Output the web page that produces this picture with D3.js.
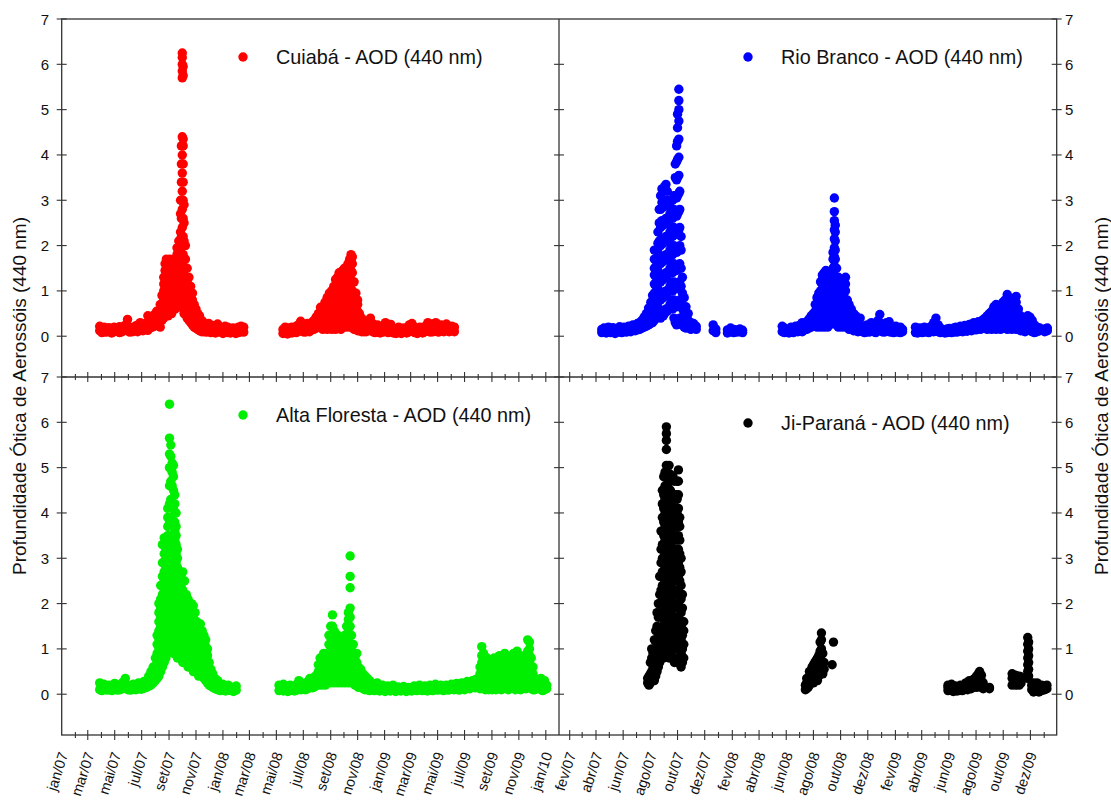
<!DOCTYPE html>
<html>
<head>
<meta charset="utf-8">
<script src="https://cdn.jsdelivr.net/npm/d3@7"></script>
<style>
  html, body { margin: 0; padding: 0; background: #fff; }
  svg { display: block; font-family: Arial, "Liberation Sans", Helvetica, sans-serif; }
</style>
</head>
<body>
<svg id="chart" width="1111" height="801"></svg>
<script>
// AOD (440 nm) observations per station: [date, value, value, ...] (several readings per day)
const cuiaba = [
["2007-03-28",0.12,0.22],["2007-04-02",0.08,0.18],["2007-04-07",0.1,0.2],["2007-04-12",0.09,0.15],["2007-04-18",0.11,0.19],
["2007-04-24",0.07,0.14],["2007-04-30",0.1,0.2],["2007-05-06",0.12,0.17],["2007-05-12",0.08,0.21],["2007-05-18",0.1,0.16],
["2007-05-24",0.13,0.24],["2007-05-30",0.15,0.37],["2007-06-04",0.09,0.2],["2007-06-10",0.1,0.18],["2007-06-16",0.12,0.22],
["2007-06-22",0.1,0.25],["2007-06-28",0.14,0.3],["2007-07-04",0.12,0.24],["2007-07-10",0.15,0.28],["2007-07-15",0.13,0.45],
["2007-07-20",0.18,0.35],["2007-07-25",0.2,0.4],["2007-07-30",0.22,0.48],["2007-08-04",0.25,0.42,0.55],["2007-08-08",0.3,0.5],
["2007-08-12",0.2,0.45,0.7],["2007-08-16",0.35,0.6,0.9],["2007-08-20",0.4,0.6,0.8,1.0,1.15,1.3],
["2007-08-23",0.45,0.65,0.85,1.05,1.25,1.45,1.6],["2007-08-26",0.5,0.7,0.9,1.1,1.3,1.5,1.7],
["2007-08-30",0.45,0.6,0.8,1.0,1.2,1.4,1.65],["2007-09-03",0.6,0.8,1.0,1.2,1.4,1.55,1.7],
["2007-09-07",0.5,0.7,0.9,1.1,1.3,1.45,1.6],["2007-09-11",0.7,0.9,1.1,1.3,1.5,1.68],
["2007-09-15",0.6,0.8,1.0,1.2,1.4,1.55,1.7],["2007-09-19",0.8,1.0,1.2,1.4,1.6,1.8,1.95],
["2007-09-23",0.9,1.1,1.3,1.5,1.7,1.9,2.1],
["2007-09-27",0.7,1.1,1.5,1.9,2.3,2.7,3.0],
["2007-09-29",1.0,1.4,1.8,2.2,2.6,3.0,3.4,3.8,4.2],
["2007-10-01",0.8,1.2,1.6,2.0,2.4,2.8,3.2,3.6,4.0,4.4,5.7,5.85,6.0,6.15,6.25],
["2007-10-03",0.6,1.0,1.4,1.8,2.2,2.6,3.0,3.4,3.8,4.2,4.35,5.75,5.95],
["2007-10-05",0.5,0.9,1.3,1.7,2.1,2.5,2.9],
["2007-10-08",0.5,0.7,0.9,1.1,1.3,1.5,1.7,2.0],["2007-10-12",0.4,0.6,0.8,1.0,1.2,1.5],["2007-10-16",0.35,0.55,0.75,1.0,1.3],
["2007-10-20",0.3,0.45,0.65,0.9,1.1],["2007-10-24",0.25,0.4,0.6,0.8,0.95],["2007-10-28",0.2,0.35,0.5,0.7],
["2007-11-01",0.18,0.35,0.5,0.6],["2007-11-05",0.15,0.3,0.45,0.5],["2007-11-09",0.12,0.28,0.45],["2007-11-14",0.1,0.25,0.35],
["2007-11-19",0.1,0.2,0.3],
["2007-11-25",0.09,0.22],["2007-11-30",0.12,0.28],["2007-12-05",0.08,0.18],["2007-12-10",0.1,0.24],["2007-12-15",0.07,0.2],
["2007-12-20",0.11,0.27],["2007-12-26",0.09,0.16],["2008-01-01",0.06,0.14],["2008-01-06",0.1,0.22],["2008-01-12",0.08,0.2],
["2008-01-18",0.07,0.15],["2008-01-24",0.09,0.18],["2008-01-30",0.06,0.12],["2008-02-05",0.08,0.2],["2008-02-11",0.1,0.22],
["2008-02-17",0.09,0.2],
["2008-05-16",0.06,0.15],["2008-05-21",0.08,0.2],["2008-05-26",0.05,0.12],["2008-05-31",0.09,0.18],["2008-06-05",0.07,0.2],
["2008-06-10",0.1,0.16],["2008-06-15",0.08,0.22],["2008-06-20",0.11,0.25],["2008-06-25",0.12,0.33],["2008-06-30",0.1,0.2],
["2008-07-05",0.09,0.22],["2008-07-10",0.12,0.28],["2008-07-15",0.1,0.25],["2008-07-20",0.14,0.3],["2008-07-25",0.15,0.35],
["2008-07-30",0.18,0.42],["2008-08-04",0.2,0.35,0.5],["2008-08-09",0.22,0.4,0.55,0.64],["2008-08-14",0.15,0.3,0.45,0.6],
["2008-08-19",0.2,0.35,0.55,0.75],["2008-08-24",0.15,0.3,0.45,0.65,0.85],["2008-08-29",0.2,0.4,0.6,0.8,0.95],
["2008-09-03",0.15,0.35,0.55,0.75,0.9,1.0],["2008-09-08",0.2,0.4,0.6,0.8,0.95,1.1],
["2008-09-12",0.15,0.35,0.55,0.75,0.95,1.1,1.25],["2008-09-16",0.2,0.4,0.6,0.8,1.0,1.15,1.3],
["2008-09-20",0.25,0.45,0.65,0.85,1.05,1.25,1.4],["2008-09-24",0.15,0.35,0.55,0.75,0.95,1.15,1.3],
["2008-09-28",0.2,0.4,0.6,0.8,1.0,1.2,1.35,1.45],["2008-10-02",0.25,0.45,0.65,0.85,1.05,1.25,1.4,1.5],
["2008-10-06",0.2,0.4,0.6,0.8,1.0,1.2,1.35],["2008-10-10",0.25,0.45,0.65,0.85,1.05,1.25,1.45,1.6],
["2008-10-14",0.2,0.4,0.6,0.8,1.0,1.2,1.4,1.55,1.7],["2008-10-17",0.25,0.45,0.65,0.85,1.05,1.25,1.45,1.65,1.8],
["2008-10-20",0.2,0.4,0.6,0.8,1.0,1.2,1.4,1.6,1.75],["2008-10-24",0.15,0.35,0.55,0.75,0.95,1.2],
["2008-10-28",0.15,0.3,0.45,0.6,0.8,0.95],["2008-11-01",0.12,0.25,0.4,0.55,0.7,0.8],["2008-11-05",0.12,0.25,0.4,0.5],
["2008-11-10",0.1,0.25,0.4],["2008-11-15",0.1,0.2,0.3],
["2008-11-20",0.1,0.25],["2008-11-25",0.12,0.3],["2008-11-30",0.15,0.4],["2008-12-05",0.1,0.28],["2008-12-10",0.08,0.2],
["2008-12-16",0.1,0.25],["2008-12-22",0.07,0.18],["2008-12-28",0.09,0.22],["2009-01-03",0.12,0.3],["2009-01-09",0.08,0.2],
["2009-01-15",0.1,0.26],["2009-01-21",0.07,0.16],["2009-01-27",0.06,0.14],["2009-02-02",0.08,0.2],["2009-02-08",0.06,0.15],
["2009-02-14",0.09,0.18],["2009-02-20",0.07,0.16],["2009-02-26",0.1,0.25],["2009-03-04",0.12,0.28],["2009-03-10",0.08,0.2],
["2009-03-16",0.06,0.15],["2009-03-22",0.09,0.2],["2009-03-28",0.07,0.17],["2009-04-03",0.1,0.22],["2009-04-09",0.12,0.3],
["2009-04-15",0.09,0.24],["2009-04-21",0.1,0.27],["2009-04-27",0.11,0.3],["2009-05-03",0.09,0.2],["2009-05-09",0.12,0.25],
["2009-05-15",0.1,0.22],["2009-05-21",0.13,0.27],["2009-05-27",0.1,0.2],["2009-06-02",0.12,0.22],["2009-06-08",0.1,0.2]
];

const rioBranco = [
["2007-04-14",0.08,0.15],["2007-04-19",0.1,0.18],["2007-04-24",0.07,0.14],["2007-04-29",0.09,0.2],["2007-05-04",0.08,0.16],
["2007-05-09",0.1,0.19],["2007-05-14",0.06,0.13],["2007-05-19",0.09,0.17],["2007-05-24",0.1,0.21],["2007-05-29",0.08,0.15],
["2007-06-03",0.11,0.2],["2007-06-08",0.09,0.18],["2007-06-13",0.12,0.22],["2007-06-18",0.1,0.2],["2007-06-23",0.13,0.25],
["2007-06-28",0.12,0.22],["2007-07-03",0.14,0.28],["2007-07-08",0.15,0.3],["2007-07-13",0.18,0.35],["2007-07-18",0.2,0.42],
["2007-07-23",0.22,0.36,0.5],["2007-07-28",0.25,0.45,0.62],["2007-08-02",0.28,0.42,0.58,0.75],["2007-08-06",0.3,0.45,0.6,0.75,0.9],
["2007-08-10",0.35,0.55,0.75,0.95,1.15,1.35,1.5,1.7,1.9],["2007-08-14",0.4,0.6,0.8,1.0,1.2,1.4,1.55],
["2007-08-18",0.45,0.65,0.85,1.05,1.25,1.45,1.65,1.85,2.05,2.3],
["2007-08-21",0.5,0.9,1.3,1.7,2.1,2.5,2.8],["2007-08-24",0.4,0.8,1.2,1.6,2.0,2.4,2.8,3.1],
["2007-08-27",0.55,0.95,1.35,1.75,2.15,2.55,2.95,3.25],["2007-08-30",0.45,0.85,1.25,1.65,2.05,2.45,2.85,3.2],
["2007-09-02",0.5,0.9,1.3,1.7,2.1,2.5,2.9,3.3],["2007-09-05",0.6,1.0,1.4,1.8,2.2,2.6,3.0,3.35],
["2007-09-08",0.55,0.95,1.35,1.75,2.15,2.55,2.95,3.2],["2007-09-11",0.6,1.0,1.4,1.8,2.2,2.6,3.0],
["2007-09-14",0.7,1.1,1.5,1.9,2.3,2.7,2.95],["2007-09-17",0.8,1.2,1.6,2.0,2.4,2.8],
["2007-09-20",0.6,1.0,1.4,1.8,2.2,2.6,3.0],["2007-09-23",0.4,0.8,1.2,1.6,2.0,2.4,2.8,3.1],
["2007-09-26",0.3,0.7,1.1,1.5,1.9,2.3,2.7,3.1,3.5,3.8],
["2007-09-29",0.25,0.65,1.05,1.45,1.85,2.25,2.65,3.05,3.45,3.85,4.2],
["2007-10-01",0.3,0.7,1.1,1.5,1.9,2.3,2.7,3.1,3.5,3.9,4.3,4.6,4.9],
["2007-10-04",0.35,0.75,1.15,1.55,1.95,2.35,2.75,3.15,3.55,3.95,4.35,4.75,5.0,5.2,5.45],
["2007-10-06",0.4,0.8,1.2,1.6,2.0,2.4,2.8,3.2],["2007-10-09",0.3,0.7,1.1,1.5,1.9,2.2],["2007-10-12",0.25,0.6,0.95,1.3],
["2007-10-16",0.2,0.5,0.85],["2007-10-20",0.18,0.4,0.65],["2007-10-25",0.2,0.35,0.5],["2007-10-31",0.15,0.3],
["2007-11-06",0.18,0.28],["2007-11-12",0.15,0.22],
["2007-12-20",0.12,0.25],["2007-12-26",0.08,0.16],["2008-01-21",0.07,0.14],["2008-01-28",0.1,0.18],["2008-02-04",0.08,0.15],
["2008-02-11",0.09,0.14],["2008-02-18",0.1,0.16],["2008-02-24",0.08,0.13],
["2008-05-23",0.1,0.22],["2008-05-28",0.08,0.18],["2008-06-02",0.1,0.15],["2008-06-07",0.07,0.14],["2008-06-12",0.09,0.2],
["2008-06-17",0.08,0.16],["2008-06-22",0.11,0.22],["2008-06-27",0.1,0.2],["2008-07-02",0.12,0.25],["2008-07-07",0.1,0.3],
["2008-07-12",0.14,0.28],["2008-07-17",0.15,0.32],["2008-07-22",0.18,0.38],["2008-07-27",0.2,0.45],["2008-08-01",0.22,0.36,0.5],
["2008-08-05",0.25,0.4,0.55,0.7],["2008-08-09",0.2,0.35,0.5,0.7,0.85],["2008-08-13",0.25,0.4,0.6,0.8,0.95],
["2008-08-17",0.2,0.4,0.6,0.8,1.0,1.2],["2008-08-21",0.25,0.45,0.65,0.85,1.05,1.25,1.35],
["2008-08-25",0.2,0.4,0.6,0.8,1.0,1.2,1.4],["2008-08-29",0.25,0.45,0.65,0.85,1.05,1.25,1.45],
["2008-09-02",0.2,0.4,0.6,0.8,1.0,1.15,1.3],["2008-09-06",0.25,0.45,0.65,0.85,1.05,1.2,1.35],
["2008-09-10",0.3,0.5,0.7,0.9,1.05,1.2],["2008-09-14",0.3,0.5,0.7,0.9,1.1,1.3,1.5,1.7,1.85],
["2008-09-17",0.35,0.55,0.75,0.95,1.15,1.35,1.55,1.75,1.95,2.15,2.35,2.55,2.75,3.05],
["2008-09-19",0.3,0.5,0.7,0.9,1.1,1.3,1.5,1.7,1.9,2.1,2.3,2.45],
["2008-09-22",0.25,0.45,0.65,0.85,1.05,1.25,1.5],["2008-09-26",0.2,0.4,0.6,0.8,1.0,1.15,1.3],
["2008-09-30",0.25,0.45,0.65,0.85,1.05,1.2],["2008-10-04",0.2,0.4,0.6,0.8,1.0],
["2008-10-08",0.25,0.45,0.65,0.85,1.05,1.2],["2008-10-12",0.2,0.4,0.6,0.8,1.0,1.15,1.3],
["2008-10-16",0.2,0.35,0.5,0.65,0.8],["2008-10-20",0.15,0.3,0.45,0.6,0.7],["2008-10-25",0.15,0.3,0.45,0.6],
["2008-10-30",0.12,0.25,0.4,0.5],["2008-11-04",0.12,0.25,0.35,0.45],["2008-11-09",0.1,0.22,0.35],
["2008-11-14",0.12,0.2,0.4],["2008-11-19",0.1,0.22],["2008-11-24",0.08,0.2],["2008-11-29",0.1,0.25],["2008-12-04",0.09,0.18],
["2008-12-09",0.12,0.3],["2008-12-14",0.1,0.2],["2008-12-19",0.08,0.22],["2008-12-24",0.12,0.35],["2008-12-28",0.15,0.3,0.48],
["2009-01-02",0.1,0.25],["2009-01-07",0.09,0.18],["2009-01-12",0.12,0.3],["2009-01-18",0.1,0.32],["2009-01-23",0.09,0.2],
["2009-01-28",0.08,0.16],["2009-02-02",0.1,0.22],["2009-02-07",0.09,0.18],["2009-02-12",0.08,0.2],["2009-02-17",0.1,0.15],
["2009-03-18",0.08,0.2],["2009-03-23",0.07,0.15],["2009-03-28",0.1,0.18],["2009-04-02",0.08,0.14],["2009-04-07",0.09,0.2],
["2009-04-12",0.1,0.16],["2009-04-17",0.08,0.18],["2009-04-22",0.12,0.22],["2009-04-28",0.1,0.3],["2009-05-03",0.12,0.25,0.4],
["2009-05-08",0.1,0.25],["2009-05-13",0.08,0.18],["2009-05-18",0.09,0.15],["2009-05-23",0.07,0.14],["2009-05-28",0.08,0.16],
["2009-06-02",0.09,0.17],["2009-06-07",0.08,0.15],["2009-06-12",0.1,0.18],["2009-06-17",0.09,0.2],["2009-06-22",0.1,0.16],
["2009-06-27",0.11,0.22],["2009-07-02",0.1,0.2],["2009-07-07",0.12,0.24],["2009-07-12",0.11,0.22],["2009-07-17",0.13,0.26],
["2009-07-22",0.12,0.25],["2009-07-27",0.15,0.3],["2009-08-01",0.14,0.28],["2009-08-06",0.16,0.32],["2009-08-11",0.15,0.3],
["2009-08-16",0.18,0.36],["2009-08-21",0.2,0.4],["2009-08-26",0.15,0.3,0.45],["2009-08-31",0.2,0.35,0.5],
["2009-09-05",0.15,0.3,0.45,0.55],["2009-09-10",0.2,0.35,0.5,0.65],["2009-09-15",0.15,0.3,0.45,0.6,0.7],
["2009-09-20",0.2,0.35,0.5,0.6],["2009-09-25",0.15,0.3,0.4,0.55],["2009-09-30",0.2,0.35,0.5,0.65,0.75],
["2009-10-05",0.2,0.35,0.5,0.65,0.8],["2009-10-10",0.15,0.3,0.45,0.6,0.75,0.92],["2009-10-15",0.2,0.35,0.5,0.65,0.85],
["2009-10-20",0.15,0.3,0.45,0.6],["2009-10-25",0.2,0.35,0.5,0.65],["2009-10-30",0.15,0.3,0.45,0.6,0.75,0.88],
["2009-11-04",0.15,0.3,0.45,0.6],["2009-11-09",0.12,0.25,0.35,0.45],["2009-11-14",0.12,0.25,0.38],["2009-11-19",0.1,0.2,0.3],
["2009-11-25",0.15,0.3,0.45],["2009-11-30",0.12,0.28,0.42],["2009-12-05",0.1,0.2,0.35],["2009-12-10",0.08,0.15,0.25],
["2009-12-16",0.1,0.2],["2009-12-22",0.12,0.18],["2010-01-02",0.1,0.16],["2010-01-08",0.12,0.18]
];

const altaFloresta = [
["2007-03-28",0.1,0.25],["2007-04-02",0.08,0.2],["2007-04-07",0.12,0.22],["2007-04-13",0.09,0.18],["2007-04-19",0.1,0.2],
["2007-04-25",0.08,0.16],["2007-05-01",0.11,0.24],["2007-05-07",0.09,0.18],["2007-05-13",0.1,0.2],["2007-05-19",0.12,0.26],
["2007-05-25",0.15,0.35],["2007-05-31",0.1,0.2],["2007-06-06",0.09,0.18],["2007-06-12",0.11,0.22],["2007-06-18",0.1,0.2],
["2007-06-24",0.12,0.25],["2007-06-30",0.11,0.2],["2007-07-06",0.13,0.28],["2007-07-12",0.15,0.3],["2007-07-17",0.18,0.4],
["2007-07-22",0.2,0.35,0.5],["2007-07-27",0.25,0.45,0.6],["2007-08-01",0.3,0.45,0.6,0.8],["2007-08-05",0.35,0.5,0.7,0.9,1.1,1.3],
["2007-08-09",0.4,0.6,0.8,1.0,1.2,1.4,1.6,1.8,2.0],["2007-08-13",0.5,0.7,0.9,1.1,1.3,1.5,1.7,1.9,2.1,2.4],
["2007-08-17",0.6,0.8,1.0,1.2,1.4,1.6,1.8,2.0,2.2,2.4,2.6,2.9,3.3],
["2007-08-21",0.7,0.9,1.1,1.3,1.5,1.7,1.9,2.1,2.3,2.5,2.7,2.9,3.1,3.3,3.45],
["2007-08-25",0.8,1.0,1.2,1.4,1.6,1.8,2.0,2.2,2.4,2.6,2.8,3.0,3.2],
["2007-08-29",0.9,1.1,1.3,1.5,1.7,1.9,2.1,2.3,2.5,2.7,2.9,3.1,3.3,3.5,3.7,3.9,4.1],
["2007-09-02",1.0,1.4,1.8,2.2,2.6,3.0,3.4,3.8,4.2,4.6,5.0,5.3,5.65,6.4],
["2007-09-05",1.1,1.5,1.9,2.3,2.7,3.1,3.5,3.9,4.3,4.7,5.0,5.25,5.5],
["2007-09-08",1.0,1.4,1.8,2.2,2.6,3.0,3.4,3.8,4.2,4.6,4.9,5.1],
["2007-09-11",0.9,1.3,1.7,2.1,2.5,2.9,3.3,3.7,4.1,4.5,4.8,5.05],
["2007-09-14",1.0,1.2,1.4,1.6,1.8,2.0,2.2,2.4,2.6,2.8,3.0,3.2,3.4,3.6,3.8,4.0,4.2,4.4],
["2007-09-17",0.9,1.1,1.3,1.5,1.7,1.9,2.1,2.3,2.5,2.7,2.9,3.1,3.3,3.5,3.7,4.0],
["2007-09-20",0.8,1.0,1.2,1.4,1.6,1.8,2.0,2.2,2.4,2.6,2.8,3.0,3.2],
["2007-09-24",0.9,1.1,1.3,1.5,1.7,1.9,2.1,2.3,2.5,2.7],["2007-09-28",0.8,1.0,1.2,1.4,1.6,1.8,2.0,2.2,2.4,2.6],
["2007-10-02",0.7,0.9,1.1,1.3,1.5,1.7,1.9,2.1,2.3,2.5,2.7],["2007-10-06",0.8,1.0,1.2,1.4,1.6,1.8,2.0,2.2,2.5],
["2007-10-10",0.7,0.9,1.1,1.3,1.5,1.7,1.9,2.2],["2007-10-14",0.6,0.8,1.0,1.2,1.4,1.6,1.8,2.1],
["2007-10-18",0.7,0.9,1.1,1.3,1.5,1.7,1.9],["2007-10-22",0.6,0.8,1.0,1.2,1.4,1.6,1.8,2.0],
["2007-10-26",0.5,0.7,0.9,1.1,1.3,1.5,1.7,1.95],["2007-10-30",0.6,0.8,1.0,1.2,1.4,1.6,1.8],
["2007-11-03",0.5,0.7,0.9,1.1,1.3,1.6],["2007-11-07",0.4,0.6,0.8,1.0,1.2,1.5],["2007-11-11",0.5,0.7,0.9,1.1,1.3,1.55],
["2007-11-15",0.4,0.6,0.8,1.0,1.2,1.4],["2007-11-19",0.35,0.55,0.75,0.95,1.15,1.3],["2007-11-23",0.3,0.5,0.7,0.9,1.05,1.2],
["2007-11-27",0.25,0.45,0.65,0.85,1.0],["2007-12-01",0.2,0.35,0.5,0.7],["2007-12-05",0.18,0.35,0.55],
["2007-12-09",0.15,0.3,0.45],["2007-12-14",0.12,0.25,0.35],["2007-12-20",0.1,0.2,0.3],["2007-12-26",0.08,0.18],
["2008-01-01",0.1,0.22],["2008-01-07",0.07,0.15],["2008-01-13",0.09,0.2],["2008-01-19",0.08,0.16],["2008-01-25",0.06,0.14],
["2008-01-31",0.09,0.18],
["2008-05-07",0.08,0.2],["2008-05-12",0.1,0.16],["2008-05-17",0.07,0.22],["2008-05-22",0.09,0.18],["2008-05-27",0.06,0.14],
["2008-06-01",0.08,0.2],["2008-06-06",0.1,0.17],["2008-06-11",0.07,0.15],["2008-06-16",0.09,0.22],["2008-06-21",0.12,0.3],
["2008-06-26",0.1,0.25],["2008-07-01",0.11,0.22],["2008-07-06",0.1,0.2],["2008-07-11",0.12,0.28],["2008-07-16",0.15,0.35],
["2008-07-21",0.14,0.3],["2008-07-26",0.16,0.38],["2008-07-31",0.2,0.3,0.42],["2008-08-04",0.2,0.35,0.5,0.65],
["2008-08-08",0.25,0.4,0.6,0.8],["2008-08-12",0.2,0.35,0.55,0.75],["2008-08-16",0.25,0.45,0.65,0.9],["2008-08-20",0.2,0.4,0.6,0.85],
["2008-08-24",0.25,0.45,0.65,0.9],["2008-08-28",0.3,0.5,0.7,0.9,1.1,1.3],["2008-09-01",0.25,0.45,0.65,0.85,1.05,1.25,1.5],
["2008-09-05",0.3,0.5,0.7,0.9,1.1,1.3,1.5,1.75],["2008-09-09",0.25,0.45,0.65,0.85,1.05,1.25,1.4],
["2008-09-13",0.3,0.5,0.7,0.9,1.1,1.25],["2008-09-17",0.25,0.45,0.65,0.85,1.05,1.3],["2008-09-21",0.3,0.5,0.7,0.9,1.15],
["2008-09-25",0.25,0.45,0.65,0.85,1.0,1.2],["2008-09-29",0.3,0.5,0.7,0.9,1.1],["2008-10-03",0.25,0.45,0.65,0.85,1.05,1.3],
["2008-10-07",0.3,0.5,0.7,0.9,1.1,1.3,1.5],["2008-10-11",0.25,0.45,0.65,0.85,1.05,1.25,1.45,1.65,1.8],
["2008-10-15",0.3,0.5,0.7,0.9,1.1,1.3,1.5,1.7,1.9,2.35,2.6,3.05],["2008-10-18",0.25,0.45,0.65,0.85,1.05,1.3],
["2008-10-22",0.3,0.5,0.7,0.9,1.1],["2008-10-26",0.2,0.4,0.6,0.8],["2008-10-30",0.2,0.35,0.5,0.7,0.9],
["2008-11-03",0.15,0.3,0.45,0.6],["2008-11-08",0.15,0.3,0.45,0.55],["2008-11-13",0.12,0.25,0.35,0.45],
["2008-11-18",0.1,0.25,0.4],["2008-11-23",0.1,0.2,0.35],["2008-11-28",0.08,0.18,0.3],["2008-12-03",0.1,0.22],
["2008-12-09",0.08,0.18],["2008-12-15",0.1,0.25],["2008-12-21",0.07,0.16],["2008-12-27",0.09,0.2],["2009-01-02",0.06,0.14],
["2009-01-08",0.08,0.18],["2009-01-14",0.07,0.15],["2009-01-20",0.09,0.2],["2009-01-26",0.06,0.12],["2009-02-01",0.08,0.16],
["2009-02-07",0.07,0.14],["2009-02-13",0.09,0.17],["2009-02-19",0.06,0.13],["2009-02-25",0.08,0.15],["2009-03-03",0.07,0.14],
["2009-03-09",0.09,0.18],["2009-03-15",0.08,0.16],["2009-03-21",0.1,0.2],["2009-03-27",0.08,0.15],["2009-04-02",0.09,0.18],
["2009-04-08",0.07,0.14],["2009-04-14",0.1,0.2],["2009-04-20",0.08,0.17],["2009-04-26",0.1,0.22],["2009-05-02",0.09,0.18],
["2009-05-08",0.11,0.2],["2009-05-14",0.08,0.16],["2009-05-20",0.1,0.2],["2009-05-26",0.09,0.18],["2009-06-01",0.12,0.22],
["2009-06-07",0.1,0.2],["2009-06-13",0.11,0.24],["2009-06-19",0.09,0.18],["2009-06-25",0.12,0.25],["2009-07-01",0.1,0.22],
["2009-07-07",0.13,0.28],["2009-07-13",0.12,0.25],["2009-07-19",0.15,0.3],["2009-07-25",0.14,0.32],["2009-07-31",0.16,0.35],
["2009-08-05",0.12,0.3,0.45,0.6],["2009-08-09",0.15,0.3,0.5,0.7,0.85,1.05],["2009-08-13",0.12,0.3,0.45,0.6,0.75,0.9],
["2009-08-17",0.1,0.25,0.4,0.55,0.75],["2009-08-21",0.12,0.3,0.45,0.6,0.8],["2009-08-25",0.1,0.25,0.4,0.55,0.7],
["2009-08-29",0.14,0.3,0.45,0.6,0.75],["2009-09-02",0.1,0.25,0.4,0.55,0.7],["2009-09-06",0.12,0.3,0.45,0.6,0.8],
["2009-09-10",0.1,0.25,0.4,0.5,0.65],["2009-09-14",0.12,0.3,0.45,0.6,0.7],["2009-09-18",0.15,0.3,0.45,0.6,0.85],
["2009-09-22",0.1,0.25,0.4,0.55,0.75],["2009-09-26",0.12,0.3,0.45,0.6,0.7],["2009-09-30",0.14,0.3,0.45,0.6,0.75,0.9],
["2009-10-04",0.15,0.3,0.5,0.65,0.85],["2009-10-08",0.1,0.25,0.4,0.55,0.75],["2009-10-12",0.12,0.3,0.45,0.6,0.7],
["2009-10-16",0.14,0.3,0.45,0.6,0.8],["2009-10-20",0.15,0.3,0.5,0.65,0.9],["2009-10-24",0.1,0.25,0.4,0.55,0.75],
["2009-10-28",0.15,0.3,0.45,0.6,0.8,0.95],["2009-11-01",0.12,0.3,0.45,0.6,0.8],["2009-11-05",0.1,0.25,0.4,0.55,0.7],
["2009-11-09",0.12,0.3,0.45,0.6,0.75],["2009-11-13",0.15,0.3,0.45,0.6,0.85],["2009-11-17",0.12,0.3,0.45,0.6,0.8],
["2009-11-21",0.15,0.3,0.5,0.65,0.8,0.95,1.2],["2009-11-25",0.2,0.35,0.5,0.7,0.85,1.0,1.15],
["2009-11-29",0.12,0.3,0.45,0.6,0.8],["2009-12-03",0.1,0.25,0.45,0.6],["2009-12-07",0.1,0.2,0.35],
["2009-12-21",0.1,0.25,0.35],["2009-12-25",0.08,0.2],["2009-12-29",0.1,0.3],["2010-01-03",0.12,0.2]
];

const jiParana = [
["2007-07-26",0.25,0.35],["2007-07-29",0.2,0.3,0.4],["2007-08-01",0.25,0.45,0.7],["2007-08-04",0.3,0.5,0.8,1.0],
["2007-08-07",0.35,0.6,0.9],["2007-08-10",0.3,0.55,0.85,1.2],["2007-08-13",0.4,0.7,1.0,1.4],["2007-08-16",0.5,0.8,1.1,1.5,1.8],
["2007-08-19",0.6,0.9,1.3,1.7,2.0],["2007-08-22",0.7,1.0,1.4,1.8,2.2,2.6],
["2007-08-25",0.8,1.1,1.4,1.7,2.0,2.3,2.6,2.9,3.2,3.6],
["2007-08-28",0.9,1.2,1.5,1.8,2.1,2.4,2.7,3.0,3.3,3.6,3.9,4.2,4.5],
["2007-08-31",0.8,1.1,1.4,1.7,2.0,2.3,2.6,2.9,3.2,3.5,3.8,4.1,4.4,4.8],
["2007-09-03",1.0,1.3,1.6,1.9,2.2,2.5,2.8,3.1,3.4,3.7,4.0,4.3,4.6,4.9],
["2007-09-06",0.9,1.2,1.5,1.8,2.1,2.4,2.7,3.0,3.3,3.6,3.9,4.2,4.5,4.8,5.05,5.4,5.6,5.75,5.9],
["2007-09-09",1.0,1.3,1.6,1.9,2.2,2.5,2.8,3.1,3.4,3.7,4.0,4.3,4.6,4.9],
["2007-09-12",0.8,1.1,1.4,1.7,2.0,2.3,2.6,2.9,3.2,3.5,3.8,4.1,4.4,4.7,5.05],
["2007-09-15",0.9,1.2,1.5,1.8,2.1,2.4,2.7,3.0,3.3,3.6,3.9,4.2,4.5,4.85],
["2007-09-21",0.8,1.1,1.4,1.7,2.0,2.3,2.6,2.9,3.2,3.5,3.8,4.1,4.4,4.8],
["2007-09-24",0.7,1.0,1.3,1.6,1.9,2.2,2.5,2.8,3.1,3.4,3.7,4.0,4.3,4.7],
["2007-09-27",0.8,1.1,1.4,1.7,2.0,2.3,2.6,2.9,3.2,3.5,3.8,4.1,4.4],
["2007-09-30",0.7,1.0,1.3,1.6,1.9,2.2,2.5,2.8,3.1,3.4,3.7,4.0,4.3,4.7],
["2007-10-03",0.8,1.1,1.4,1.7,2.0,2.3,2.6,2.9,3.2,3.5,3.8,4.1,4.4,4.7,4.95],
["2007-10-06",0.7,1.0,1.3,1.6,1.9,2.2,2.5,2.8,3.1,3.4,3.7,3.9],
["2007-10-09",0.6,0.9,1.2,1.5,1.8,2.1,2.4,2.7,3.0],["2007-10-12",0.7,1.0,1.3,1.6,1.9,2.2],["2007-10-15",0.8,1.1,1.4,1.6],
["2008-07-14",0.1,0.2],["2008-07-17",0.12,0.25,0.35],["2008-07-20",0.15,0.3],["2008-07-23",0.2,0.4,0.5],["2008-07-26",0.25,0.45],
["2008-07-29",0.3,0.5,0.6],["2008-08-01",0.25,0.45,0.65],["2008-08-04",0.3,0.5,0.7],["2008-08-07",0.35,0.55,0.75],
["2008-08-10",0.3,0.5,0.8],["2008-08-13",0.4,0.6,0.85],["2008-08-16",0.45,0.7,0.95,1.15],["2008-08-19",0.5,0.75,1.0,1.2,1.35],
["2008-08-22",0.45,0.65,0.9],["2008-08-25",0.55,0.7],["2008-09-12",0.65],["2008-09-15",1.15],
["2009-05-30",0.08,0.15,0.2],["2009-06-03",0.1,0.18],["2009-06-07",0.08,0.22],["2009-06-11",0.06,0.15],["2009-06-15",0.09,0.18],
["2009-06-19",0.07,0.14],["2009-06-23",0.08,0.16],["2009-06-27",0.1,0.2],["2009-07-01",0.08,0.15],["2009-07-05",0.1,0.2],
["2009-07-09",0.12,0.25],["2009-07-13",0.1,0.22],["2009-07-17",0.14,0.3],["2009-07-21",0.12,0.28],["2009-07-25",0.15,0.32],
["2009-07-29",0.18,0.35],["2009-08-02",0.15,0.3,0.4],["2009-08-06",0.2,0.35,0.45],["2009-08-09",0.2,0.4,0.5],
["2009-08-13",0.15,0.3,0.42],["2009-08-17",0.12,0.25],["2009-08-31",0.12,0.15],
["2009-10-21",0.2,0.35,0.45],["2009-10-25",0.25,0.4],["2009-10-29",0.2,0.3,0.42],["2009-11-02",0.22,0.35],
["2009-11-06",0.2,0.3,0.4],["2009-11-10",0.25,0.38],["2009-11-25",0.35,0.5,0.65,0.8,0.95,1.1,1.25],
["2009-11-27",0.4,0.55,0.7,0.85,1.0,1.15],["2009-12-04",0.1,0.2],["2009-12-08",0.05,0.15,0.25],["2009-12-12",0.08,0.2],
["2009-12-16",0.1,0.25],["2009-12-20",0.05,0.15],["2009-12-26",0.08,0.2],["2010-01-02",0.1,0.18],["2010-01-07",0.12,0.2]
];

// Axis ticks and labels
const yTickValues = [0, 1, 2, 3, 4, 5, 6, 7];
const ptMonths = ["jan","fev","mar","abr","mai","jun","jul","ago","set","out","nov","dez"];
const leftTickLabels = ["jan/07","mar/07","mai/07","jul/07","set/07","nov/07","jan/08","mar/08","mai/08","jul/08",
  "set/08","nov/08","jan/09","mar/09","mai/09","jul/09","set/09","nov/09","jan/10"];
const rightTickLabels = ["fev/07","abr/07","jun/07","ago/07","out/07","dez/07","fev/08","abr/08","jun/08","ago/08",
  "out/08","dez/08","fev/09","abr/09","jun/09","ago/09","out/09","dez/09"];
const stations = ["Cuiabá", "Rio Branco", "Alta Floresta", "Ji-Paraná"];
const yTitle = "Profundidade Ótica de Aerossóis (440 nm)";

// ---------------------------------------------------------------
const svg = d3.select("#chart");
const parse = d3.utcParse("%Y-%m-%d");
const labelDate = s => {
  const [m, y] = s.split("/");
  return new Date(Date.UTC(2000 + +y, ptMonths.indexOf(m), 1));
};

const X0 = 61.7, XM = 559, X1 = 1056.7;
const Y0 = 19, YM = 377, Y1 = 735;
const axisColor = "#333";

const xLeft = d3.scaleUtc().domain([new Date(Date.UTC(2007, 0, 1)), new Date(Date.UTC(2010, 1, 1))]).range([X0, XM + 0.5]);
const xRight = d3.scaleUtc().domain([new Date(Date.UTC(2007, 0, 8)), new Date(Date.UTC(2010, 0, 29))]).range([XM, X1]);
const yTop = d3.scaleLinear().domain([-0.9, 7]).range([YM, Y0]);
const yBottom = d3.scaleLinear().domain([-0.9, 7]).range([Y1, YM]);

const panels = [
  { name: stations[0], rows: cuiaba, color: "#ff0000", x: xLeft, y: yTop, lx: 243, ly: 57 },
  { name: stations[1], rows: rioBranco, color: "#0000ff", x: xRight, y: yTop, lx: 748, ly: 57 },
  { name: stations[2], rows: altaFloresta, color: "#00ee00", x: xLeft, y: yBottom, lx: 243, ly: 415 },
  { name: stations[3], rows: jiParana, color: "#000000", x: xRight, y: yBottom, lx: 748, ly: 423 }
];

// clip regions per panel
const defs = svg.append("defs");
panels.forEach((p, i) => {
  const [xa, xb] = p.x.range();
  const [yb, ya] = p.y.range();
  defs.append("clipPath").attr("id", "clip" + i)
    .append("rect").attr("x", Math.max(xa, X0)).attr("y", ya)
    .attr("width", Math.min(xb, X1) - Math.max(xa, X0)).attr("height", yb - ya);
});

// scatter points
panels.forEach((p, i) => {
  const pts = p.rows.flatMap(r => r.slice(1).map(v => ({ date: parse(r[0]), v })));
  svg.append("g").attr("clip-path", `url(#clip${i})`)
    .selectAll("circle").data(pts).join("circle")
    .attr("cx", d => p.x(d.date))
    .attr("cy", d => p.y(d.v))
    .attr("r", 4.7)
    .attr("fill", p.color);
});

// frame
const frame = svg.append("g").attr("stroke", axisColor).attr("stroke-width", 1.3).attr("fill", "none");
frame.append("rect").attr("x", X0).attr("y", Y0).attr("width", X1 - X0).attr("height", Y1 - Y0);
frame.append("line").attr("x1", X0).attr("x2", X1).attr("y1", YM).attr("y2", YM);
frame.append("line").attr("x1", XM).attr("x2", XM).attr("y1", Y0).attr("y2", Y1);

// x ticks (monthly, labelled months longer)
function monthTicks(scale, labels, yLine, withLabels) {
  const [d0, d1] = scale.domain();
  const labelled = new Set(labels.map(s => +labelDate(s)));
  const months = d3.utcMonth.range(d3.utcMonth.ceil(d0), d1);
  const g = svg.append("g");
  months.forEach(m => {
    const x = scale(m);
    if (x < X0 + 0.5 || x > X1 - 0.5 || Math.abs(x - XM) < 1) return;
    const major = labelled.has(+m);
    const len = major ? 5 : 3;
    g.append("line").attr("x1", x).attr("x2", x).attr("y1", yLine - len).attr("y2", yLine + len)
      .attr("stroke", axisColor).attr("stroke-width", 1.1);
  });
  if (withLabels) {
    labels.forEach(s => {
      const x = scale(labelDate(s));
      g.append("text")
        .attr("transform", `translate(${x + 3},${yLine + 18}) rotate(-72)`)
        .attr("text-anchor", "end").attr("dominant-baseline", "middle")
        .attr("font-size", 14.5).attr("fill", "#111").text(s);
    });
  }
}
monthTicks(xLeft, leftTickLabels, YM, false);
monthTicks(xRight, rightTickLabels, YM, false);
monthTicks(xLeft, leftTickLabels, Y1, true);
monthTicks(xRight, rightTickLabels, Y1, true);

// y ticks on left, middle and right verticals
[yTop, yBottom].forEach(ys => {
  const g = svg.append("g");
  yTickValues.forEach(v => {
    const y = ys(v);
    [X0, XM, X1].forEach(xv => {
      if (v === 7 && ys === yTop && xv === XM) return;
      g.append("line").attr("x1", xv - 5).attr("x2", xv + 5).attr("y1", y).attr("y2", y)
        .attr("stroke", axisColor).attr("stroke-width", 1.1);
    });
    g.append("text").attr("x", 49).attr("y", y).attr("text-anchor", "end")
      .attr("dominant-baseline", "central").attr("font-size", 15).attr("fill", "#111").text(v);
    g.append("text").attr("x", 1065).attr("y", y).attr("text-anchor", "start")
      .attr("dominant-baseline", "central").attr("font-size", 15).attr("fill", "#111").text(v);
  });
});

// y-axis titles
[[19, 396], [1101, 396]].forEach(([x, y]) => {
  svg.append("text").attr("transform", `translate(${x},${y}) rotate(-90)`)
    .attr("text-anchor", "middle").attr("dominant-baseline", "central")
    .attr("font-size", 19).attr("fill", "#111").text(yTitle);
});

// legends
panels.forEach(p => {
  svg.append("circle").attr("cx", p.lx).attr("cy", p.ly).attr("r", 4.7).attr("fill", p.color);
  svg.append("text").attr("x", p.lx + 33).attr("y", p.ly).attr("dominant-baseline", "central")
    .attr("font-size", 19.8).attr("fill", "#111").text(`${p.name} - AOD (440 nm)`);
});
</script>
</body>
</html>
